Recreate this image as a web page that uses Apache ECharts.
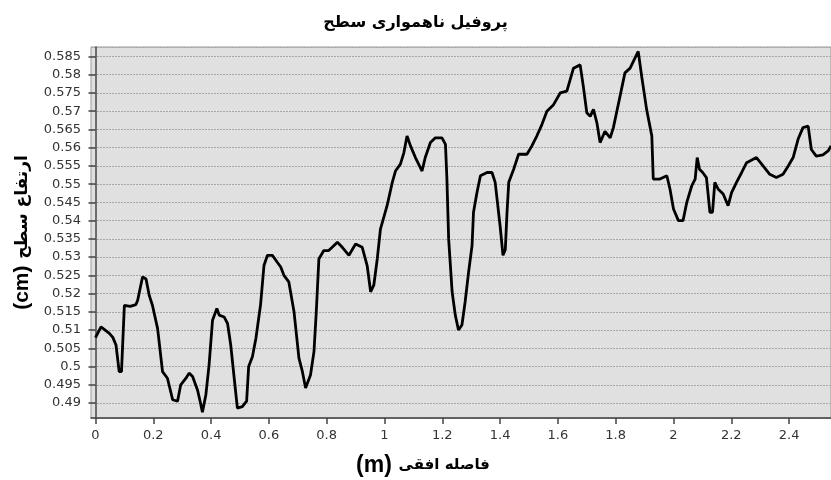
<!DOCTYPE html>
<html>
<head>
<meta charset="utf-8">
<script src="https://cdn.jsdelivr.net/npm/echarts@6/dist/echarts.min.js"></script>
<style>
  html, body { margin: 0; padding: 0; background: #fff; }
  #chart { width: 831px; height: 480px; }
</style>
</head>
<body>
<div id="chart"></div>
<script>
// فاصله افقی (m)
var distance = [
  0, 0.019, 0.048, 0.06, 0.071, 0.082, 0.09, 0.1, 0.105, 0.12, 0.14, 0.146, 0.163, 0.175, 0.186, 0.197,
  0.215, 0.232, 0.249, 0.267, 0.284, 0.295, 0.313, 0.324, 0.336, 0.353, 0.362, 0.37, 0.382, 0.393,
  0.405, 0.42, 0.428, 0.445, 0.457, 0.468, 0.48, 0.491, 0.508, 0.523, 0.53, 0.543, 0.555, 0.571,
  0.583, 0.595, 0.612, 0.629, 0.641, 0.652, 0.669, 0.687, 0.704, 0.716, 0.727, 0.744, 0.756, 0.764,
  0.773, 0.79, 0.807, 0.819, 0.837, 0.854, 0.877, 0.9, 0.923, 0.94, 0.952, 0.963, 0.975, 0.986,
  1.009, 1.027, 1.038, 1.055, 1.067, 1.078, 1.09, 1.107, 1.13, 1.141, 1.159, 1.176, 1.199, 1.211,
  1.216, 1.222, 1.234, 1.245, 1.256, 1.268, 1.279, 1.291, 1.303, 1.308, 1.32, 1.332, 1.355, 1.372,
  1.383, 1.4, 1.41, 1.418, 1.424, 1.43, 1.447, 1.464, 1.493, 1.51, 1.527, 1.545, 1.562, 1.585,
  1.608, 1.631, 1.654, 1.677, 1.688, 1.7, 1.712, 1.723, 1.735, 1.746, 1.763, 1.781, 1.792, 1.815,
  1.832, 1.85, 1.867, 1.878, 1.89, 1.907, 1.925, 1.93, 1.953, 1.977, 1.988, 2.0, 2.017, 2.033,
  2.046, 2.063, 2.075, 2.082, 2.09, 2.101, 2.114, 2.126, 2.135, 2.143, 2.155, 2.172, 2.189, 2.201,
  2.218, 2.236, 2.253, 2.287, 2.31, 2.333, 2.356, 2.379, 2.397, 2.414, 2.431, 2.448, 2.466, 2.477,
  2.494, 2.517, 2.535, 2.545
];
// ارتفاع سطح (cm)
var height = [
  0.5079, 0.5109, 0.5091, 0.508, 0.5059, 0.4986, 0.4986, 0.5168, 0.517, 0.5165, 0.517, 0.5182, 0.5246, 0.524, 0.5195, 0.5168,
  0.5104, 0.4986, 0.4968, 0.4909, 0.4905, 0.495, 0.4968, 0.4982, 0.4973, 0.4936, 0.4905, 0.4875, 0.4923, 0.5004,
  0.5127, 0.5159, 0.5141, 0.5136, 0.5118, 0.5059, 0.4968, 0.4886, 0.489, 0.4905, 0.5, 0.5027, 0.5077, 0.5168,
  0.5277, 0.5305, 0.5305, 0.5286, 0.5273, 0.525, 0.5232, 0.515, 0.5023, 0.4986, 0.4941, 0.4977, 0.5041, 0.515,
  0.5295, 0.5318, 0.5318, 0.5327, 0.5341, 0.5327, 0.5305, 0.5336, 0.5327, 0.5277, 0.5205, 0.5223, 0.5295, 0.5377,
  0.5441, 0.5505, 0.5536, 0.5555, 0.5586, 0.5632, 0.5605, 0.5573, 0.5536, 0.5573, 0.5614, 0.5627, 0.5627, 0.5609,
  0.5514, 0.535, 0.5205, 0.5141, 0.51, 0.5114, 0.5177, 0.5259, 0.5332, 0.5423, 0.5477, 0.5523, 0.5532, 0.5532,
  0.5505, 0.5386, 0.5305, 0.532, 0.5423, 0.5505, 0.5541, 0.5582, 0.5582, 0.5605, 0.5632, 0.5664, 0.57, 0.5718,
  0.575, 0.5755, 0.5818, 0.5827, 0.5768, 0.5696, 0.5686, 0.5705, 0.5668, 0.5614, 0.5645, 0.5627, 0.5655, 0.5741,
  0.5805, 0.5818, 0.5846, 0.5864, 0.5795, 0.5705, 0.5632, 0.5514, 0.5514, 0.5523, 0.5486, 0.5432, 0.54, 0.54,
  0.545, 0.5495, 0.5514, 0.5573, 0.5541, 0.5532, 0.5518, 0.5423, 0.5423, 0.5505, 0.5486, 0.5473, 0.5441, 0.5477,
  0.5505, 0.5532, 0.5559, 0.5573, 0.555, 0.5527, 0.5518, 0.5527, 0.555, 0.5573, 0.5623, 0.5655, 0.5659, 0.5595,
  0.5577, 0.558, 0.5591, 0.5605
];

var titleText = 'پروفیل ناهمواری سطح';
var xName = 'فاصله افقی';
var yName = 'ارتفاع سطح';

var chart = echarts.init(document.getElementById('chart'));
var points = distance.map(function (d, i) { return [d, height[i]]; });

chart.setOption({
  backgroundColor: '#ffffff',
  animation: false,
  title: {
    text: titleText,
    left: 'center',
    top: 10,
    textStyle: { fontFamily: 'DejaVu Sans', fontWeight: 'bold', fontSize: 16, color: '#000' }
  },
  grid: {
    left: 91, top: 47, right: 0, bottom: 62,
    outerBoundsMode: 'none',
    containLabel: false,
    show: true,
    backgroundColor: '#e0e0e0',
    borderColor: '#9a9a9a',
    borderWidth: 1
  },
  xAxis: {
    type: 'value',
    min: -0.0155,
    max: 2.545,
    splitNumber: 13,
    name: '{a|(m)}  {b|' + xName + '}',
    nameLocation: 'middle',
    nameGap: 36,
    nameTextStyle: {
      padding: [0, 76, 0, 0],
      rich: {
        a: { fontFamily: 'Liberation Sans', fontWeight: 'bold', fontSize: 23, color: '#000' },
        b: { fontFamily: 'DejaVu Sans', fontWeight: 'bold', fontSize: 15, color: '#000' }
      }
    },
    axisLine: { lineStyle: { color: '#444', width: 1.5 } },
    axisTick: { length: 6, lineStyle: { color: '#444', width: 1.5 } },
    axisLabel: {
      showMinLabel: false, showMaxLabel: false,
      fontFamily: 'DejaVu Sans', fontSize: 13, color: '#333', margin: 11
    },
    splitLine: { show: false }
  },
  yAxis: {
    type: 'value',
    min: 0.4859,
    max: 0.5876,
    splitNumber: 20,
    name: '{a|(cm)}  {b|' + yName + '}',
    nameLocation: 'middle',
    nameRotate: 90,
    nameGap: 57,
    nameTextStyle: {
      rich: {
        a: { fontFamily: 'Liberation Sans', fontWeight: 'bold', fontSize: 21, color: '#000' },
        b: { fontFamily: 'DejaVu Sans', fontWeight: 'bold', fontSize: 17, color: '#000' }
      }
    },
    axisLine: { show: true, lineStyle: { color: '#444', width: 1.5 } },
    axisTick: { show: true, length: 7, lineStyle: { color: '#444', width: 1.5 } },
    axisLabel: {
      showMinLabel: false, showMaxLabel: false,
      fontFamily: 'DejaVu Sans', fontSize: 13, color: '#333', margin: 10
    },
    splitLine: { lineStyle: { color: '#a8a8a8', type: [2, 1], width: 1 } }
  },
  series: [{
    type: 'line',
    data: points,
    showSymbol: false,
    lineStyle: { color: '#000', width: 2.8 }
  }]
});
</script>
</body>
</html>
